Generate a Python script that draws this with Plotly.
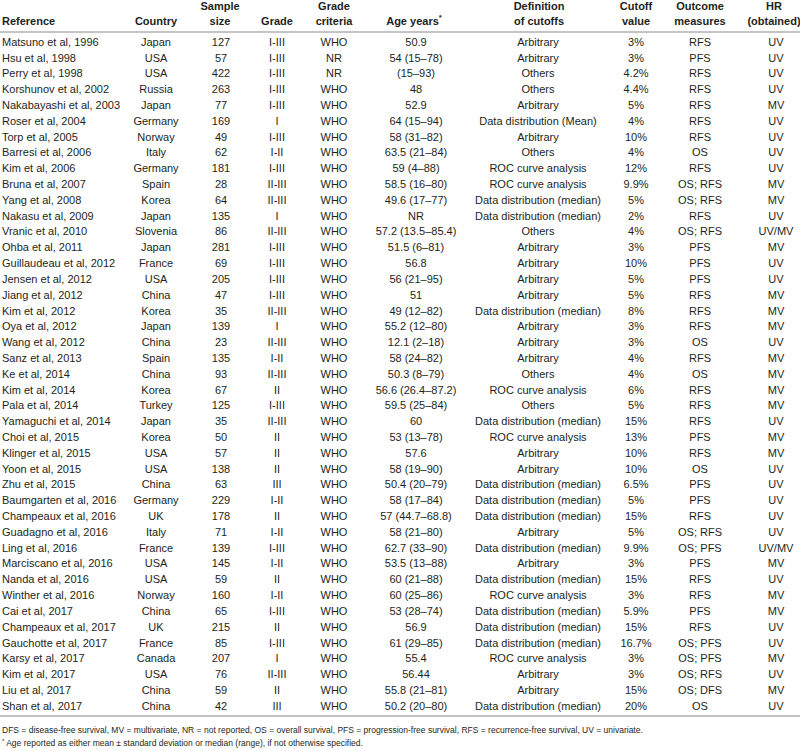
import plotly.graph_objects as go

references = ["Matsuno et al, 1996", "Hsu et al, 1998", "Perry et al, 1998", "Korshunov et al, 2002",
    "Nakabayashi et al, 2003", "Roser et al, 2004", "Torp et al, 2005", "Barresi et al, 2006",
    "Kim et al, 2006", "Bruna et al, 2007", "Yang et al, 2008", "Nakasu et al, 2009",
    "Vranic et al, 2010", "Ohba et al, 2011", "Guillaudeau et al, 2012", "Jensen et al, 2012",
    "Jiang et al, 2012", "Kim et al, 2012", "Oya et al, 2012", "Wang et al, 2012",
    "Sanz et al, 2013", "Ke et al, 2014", "Kim et al, 2014", "Pala et al, 2014",
    "Yamaguchi et al, 2014", "Choi et al, 2015", "Klinger et al, 2015", "Yoon et al, 2015",
    "Zhu et al, 2015", "Baumgarten et al, 2016", "Champeaux et al, 2016", "Guadagno et al, 2016",
    "Ling et al, 2016", "Marciscano et al, 2016", "Nanda et al, 2016", "Winther et al, 2016",
    "Cai et al, 2017", "Champeaux et al, 2017", "Gauchotte et al, 2017", "Karsy et al, 2017",
    "Kim et al, 2017", "Liu et al, 2017", "Shan et al, 2017"]
countries = ["Japan", "USA", "USA", "Russia", "Japan", "Germany", "Norway", "Italy", "Germany",
    "Spain", "Korea", "Japan", "Slovenia", "Japan", "France", "USA", "China", "Korea", "Japan",
    "China", "Spain", "China", "Korea", "Turkey", "Japan", "Korea", "USA", "USA", "China",
    "Germany", "UK", "Italy", "France", "USA", "USA", "Norway", "China", "UK", "France",
    "Canada", "USA", "China", "China"]
sample_sizes = [127, 57, 422, 263, 77, 169, 49, 62, 181, 28, 64, 135, 86, 281, 69, 205, 47, 35,
    139, 23, 135, 93, 67, 125, 35, 50, 57, 138, 63, 229, 178, 71, 139, 145, 59, 160, 65, 215,
    85, 207, 76, 59, 42]
grades = ["I-III", "I-III", "I-III", "I-III", "I-III", "I", "I-III", "I-II", "I-III", "II-III",
    "II-III", "I", "II-III", "I-III", "I-III", "I-III", "I-III", "II-III", "I", "II-III", "I-II",
    "II-III", "II", "I-III", "II-III", "II", "II", "II", "III", "I-II", "II", "I-II", "I-III",
    "I-II", "II", "I-II", "I-III", "II", "I-III", "I", "II-III", "II", "III"]
grade_criteria = ["WHO", "NR", "NR"] + ["WHO"] * 40
ages = ["50.9", "54 (15–78)", "(15–93)", "48", "52.9", "64 (15–94)", "58 (31–82)",
    "63.5 (21–84)", "59 (4–88)", "58.5 (16–80)", "49.6 (17–77)", "NR", "57.2 (13.5–85.4)",
    "51.5 (6–81)", "56.8", "56 (21–95)", "51", "49 (12–82)", "55.2 (12–80)", "12.1 (2–18)",
    "58 (24–82)", "50.3 (8–79)", "56.6 (26.4–87.2)", "59.5 (25–84)", "60", "53 (13–78)",
    "57.6", "58 (19–90)", "50.4 (20–79)", "58 (17–84)", "57 (44.7–68.8)", "58 (21–80)",
    "62.7 (33–90)", "53.5 (13–88)", "60 (21–88)", "60 (25–86)", "53 (28–74)", "56.9",
    "61 (29–85)", "55.4", "56.44", "55.8 (21–81)", "50.2 (20–80)"]
ARB, OTH, ROC, DDM, DDMean = "Arbitrary", "Others", "ROC curve analysis", "Data distribution (median)", "Data distribution (Mean)"
definitions = [ARB, ARB, OTH, OTH, ARB, DDMean, ARB, OTH, ROC, ROC, DDM, DDM, OTH, ARB, ARB,
    ARB, ARB, DDM, ARB, ARB, ARB, OTH, ROC, OTH, DDM, ROC, ARB, ARB, DDM, DDM, DDM, ARB, DDM,
    ARB, DDM, ROC, DDM, DDM, DDM, ROC, ARB, ARB, DDM]
cutoffs = ["3%", "3%", "4.2%", "4.4%", "5%", "4%", "10%", "4%", "12%", "9.9%", "5%", "2%", "4%",
    "3%", "10%", "5%", "5%", "8%", "3%", "3%", "4%", "4%", "6%", "5%", "15%", "13%", "10%",
    "10%", "6.5%", "5%", "15%", "5%", "9.9%", "3%", "15%", "3%", "5.9%", "15%", "16.7%", "3%",
    "3%", "15%", "20%"]
outcomes = ["RFS", "PFS", "RFS", "RFS", "RFS", "RFS", "RFS", "OS", "RFS", "OS; RFS", "OS; RFS",
    "RFS", "OS; RFS", "PFS", "PFS", "PFS", "RFS", "RFS", "RFS", "OS", "RFS", "OS", "RFS", "RFS",
    "RFS", "PFS", "RFS", "OS", "PFS", "PFS", "RFS", "OS; RFS", "OS; PFS", "PFS", "RFS", "RFS",
    "PFS", "RFS", "OS; PFS", "OS; PFS", "OS; RFS", "OS; DFS", "OS"]
hr_obtained = ["UV", "UV", "UV", "UV", "MV", "UV", "UV", "UV", "UV", "MV", "MV", "UV", "UV/MV",
    "MV", "UV", "UV", "MV", "MV", "MV", "UV", "MV", "MV", "MV", "MV", "UV", "MV", "MV", "UV",
    "UV", "UV", "UV", "UV", "UV/MV", "MV", "UV", "MV", "MV", "UV", "UV", "MV", "UV", "MV", "UV"]

header_line1 = ["", "", "Sample", "", "Grade", "", "Definition", "Cutoff", "Outcome", "HR"]
header_line2 = ["Reference", "Country", "size", "Grade", "criteria", "Age years<sup>*</sup>",
    "of cutoffs", "value", "measures", "(obtained)"]
footnote1 = ("DFS = disease-free survival, MV = multivariate, NR = not reported, OS = overall survival, "
    "PFS = progression-free survival, RFS = recurrence-free survival, UV = univariate.")
footnote2 = "Age reported as either mean ± standard deviation or median (range), if not otherwise specified."

# layout constants (pixels)
W, H = 800, 751
FONT = "Liberation Sans, Arial, Helvetica, sans-serif"
COLOR = "#231f20"
col_x = [2, 156, 221, 277, 334, 416, 538, 636, 700, 776]
head_x = [2, 156, 220, 277, 334, 414, 539, 636, 700, 774]
row0, row_last = 43, 707
n = len(references)
dy = (row_last - row0) / (n - 1)
row_y = [row0 + i * dy for i in range(n)]

columns = [references, countries, [str(v) for v in sample_sizes], grades, grade_criteria, ages,
    definitions, cutoffs, outcomes, hr_obtained]

fig = go.Figure()
for j, col in enumerate(columns):
    fig.add_trace(go.Scatter(
        x=[col_x[j]] * n, y=row_y, text=col, mode="text", cliponaxis=False,
        textposition="middle right" if j == 0 else "middle center",
        textfont=dict(family=FONT, size=11, color=COLOR),
        hoverinfo="skip", showlegend=False))

for j in range(len(header_line2)):
    for txt, yy in ((header_line1[j], 7), (header_line2[j], 22)):
        if not txt:
            continue
        fig.add_trace(go.Scatter(
            x=[head_x[j]], y=[yy], text=["<b>" + txt + "</b>"], mode="text", cliponaxis=False,
            textposition="middle right" if j == 0 else "middle center",
            textfont=dict(family=FONT, size=11, color=COLOR),
            hoverinfo="skip", showlegend=False))

fig.add_trace(go.Scatter(x=[2], y=[731], text=[footnote1], mode="text", cliponaxis=False,
    textposition="middle right", textfont=dict(family=FONT, size=8.5, color=COLOR),
    hoverinfo="skip", showlegend=False))
fig.add_trace(go.Scatter(x=[2], y=[744], text=["<sup>*</sup> " + footnote2], mode="text",
    cliponaxis=False, textposition="middle right",
    textfont=dict(family=FONT, size=8.5, color=COLOR), hoverinfo="skip", showlegend=False))

for yy in (32, 716):
    fig.add_shape(type="line", x0=0, x1=W, y0=yy, y1=yy, xref="x", yref="y",
        line=dict(color="#8a8a8a", width=1))

fig.update_layout(
    width=W, height=H, margin=dict(l=0, r=0, t=0, b=0),
    paper_bgcolor="white", plot_bgcolor="white",
    xaxis=dict(range=[0, W], visible=False, fixedrange=True),
    yaxis=dict(range=[H, 0], visible=False, fixedrange=True),
)
fig.write_html("out.html", config={"displayModeBar": False},
               post_script="document.body.style.margin='0';")
